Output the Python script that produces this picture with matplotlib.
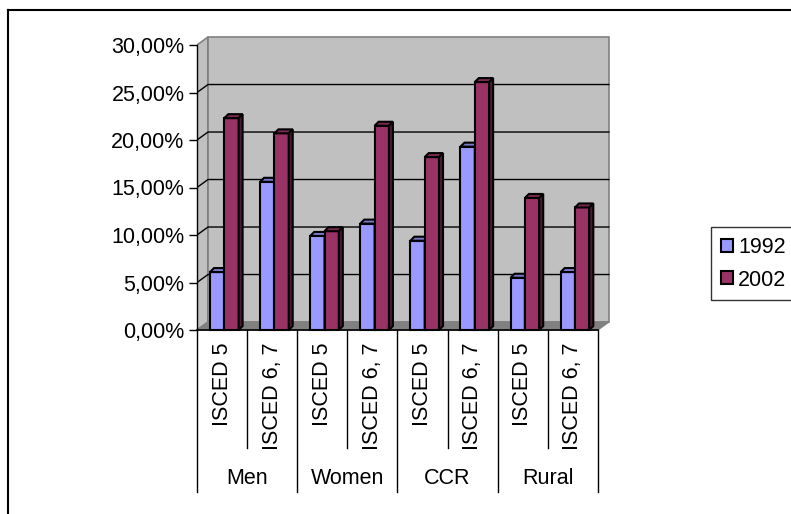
import matplotlib
matplotlib.use('Agg')
import matplotlib.pyplot as plt
import numpy as np
from matplotlib.patches import Polygon, Rectangle, Patch
from matplotlib.lines import Line2D

# data (percent)
groups = ['Men', 'Women', 'CCR', 'Rural']
levels = ['ISCED 5', 'ISCED 6, 7']
years = ['1992', '2002']
share_1992 = [6.1, 15.6, 9.9, 11.2, 9.4, 19.3, 5.5, 6.1]
share_2002 = [22.3, 20.7, 10.4, 21.5, 18.2, 26.1, 13.9, 12.9]
yticks = [0, 5, 10, 15, 20, 25, 30]

plt.rcParams['font.family'] = ['Liberation Sans', 'DejaVu Sans']
fs = 15.5

W, H = 791, 514
fig = plt.figure(figsize=(W/100, H/100), dpi=100)
# front plane: 50.1 px per category, 9.5 px per percent
ax = fig.add_axes([197/W, (H-492)/H, (620-197)/W, (492-30)/H])
ax.set_xlim(0, 423/50.1)
ax.set_ylim(-(492-330)/9.5, (330-30)/9.5)

n = len(share_1992)
ymax = yticks[-1]
wdx, wdy = 0.22, 0.84      # wall depth
bdx, bdy = 0.08, 0.42      # bar depth
bw = 1/3.5                 # bar width (gap 150%)
wall = '#c0c0c0'
edge = '#808080'

# walls and floor
ax.add_patch(Polygon([(0, 0), (0, ymax), (wdx, ymax+wdy), (wdx, wdy)],
                     closed=True, fc=wall, ec=edge, lw=1.2, zorder=1))
ax.add_patch(Rectangle((wdx, wdy), n, ymax, fc=wall, ec=edge, lw=1.2, zorder=1))
for v in yticks[1:-1]:
    ax.plot([0, wdx, n+wdx], [v, v+wdy, v+wdy], color='k', lw=1, zorder=2)
ax.add_patch(Polygon([(0, 0), (n, 0), (n+wdx, wdy), (wdx, wdy)],
                     closed=True, fc=edge, ec=edge, lw=1, zorder=2))


def shade(c, f):
    rgb = np.array(matplotlib.colors.to_rgb(c))
    return tuple(rgb*f)


def bar3d(x0, h, color):
    kw = dict(ec='k', lw=1.5, joinstyle='miter', zorder=3)
    ax.add_patch(Rectangle((x0, 0), bw, h, fc=color, **kw))
    ax.add_patch(Polygon([(x0, h), (x0+bw, h), (x0+bw+bdx, h+bdy), (x0+bdx, h+bdy)],
                         closed=True, fc=shade(color, 0.8), **kw))
    ax.add_patch(Polygon([(x0+bw, 0), (x0+bw+bdx, bdy), (x0+bw+bdx, h+bdy), (x0+bw, h)],
                         closed=True, fc=shade(color, 0.5), **kw))


c1992, c2002 = '#9999ff', '#993366'
for i in range(n):
    x0 = i + 0.75*bw + 0.045
    bar3d(x0, share_1992[i], c1992)
    bar3d(x0+bw, share_2002[i], c2002)

# y axis
for s in ['top', 'right', 'bottom']:
    ax.spines[s].set_visible(False)
ax.spines['left'].set_bounds(0, ymax)
ax.spines['left'].set_linewidth(1)
ax.set_yticks(yticks)
ax.set_yticklabels([('%.2f' % v).replace('.', ',') + '%' for v in yticks])
ax.tick_params(axis='y', length=6, width=1, pad=3, labelsize=fs)
ax.set_xticks([])
ax.patch.set_visible(False)

# category table below the axis
ax.plot([0, n], [0, 0], color='k', lw=1.2, clip_on=False, zorder=4)
y_grp = -(492-330)/9.5
y_sub = -(448-330)/9.5
for k in range(n+1):
    ax.plot([k, k], [0, y_grp if k % 2 == 0 else y_sub], color='k', lw=1, clip_on=False)
for i in range(n):
    ax.text(i+0.5, -(343-330)/9.5, levels[i % 2], rotation=90, ha='center', va='top',
            fontsize=fs)
for g, name in enumerate(groups):
    ax.text(2*g+1, -(478-330)/9.5, name, ha='center', va='center', fontsize=fs)

# legend
handles = [Patch(fc=c1992, ec='k', lw=1.5), Patch(fc=c2002, ec='k', lw=1.5)]
leg = fig.legend(handles, years, loc='upper left', bbox_to_anchor=(711/W, 1-227/H),
                 fontsize=fs, frameon=True, fancybox=False, edgecolor='k',
                 handlelength=0.55, handleheight=0.55, handletextpad=0.25,
                 labelspacing=0.55, borderpad=0.45, borderaxespad=0)
leg.get_frame().set_linewidth(1)

# outer chart border (top and left edges visible)
fig.add_artist(Line2D([8/W, 1], [1-9.5/H, 1-9.5/H], color='k', lw=1.5))
fig.add_artist(Line2D([8/W, 8/W], [0, 1-9.5/H], color='k', lw=1.5))

fig.savefig('out.png', dpi=100)
